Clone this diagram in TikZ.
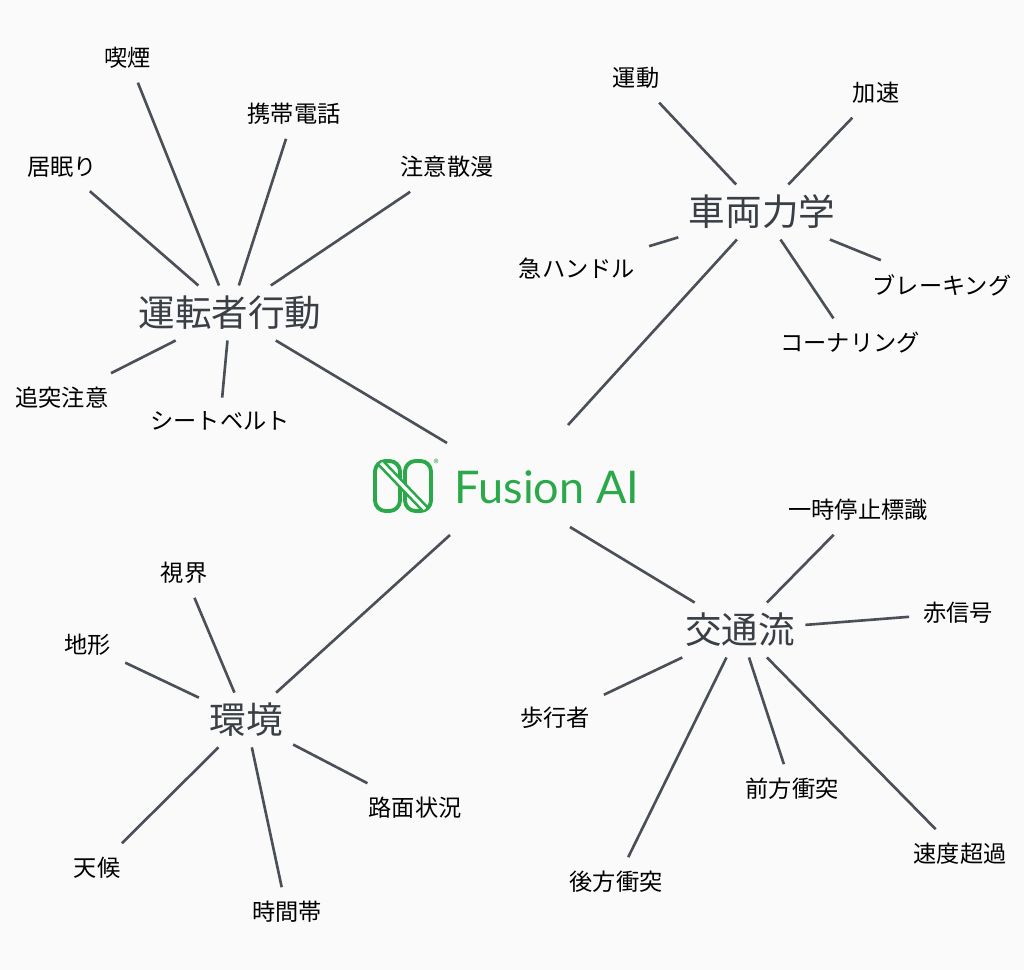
\documentclass[tikz,border=0pt]{standalone}
\usepackage{fontspec}
\setmainfont{Noto Sans CJK JP}
\newfontfamily\latinfont{Lato}
\definecolor{linegray}{HTML}{4B5058}
\definecolor{hubgray}{HTML}{3A3F45}
\definecolor{fusiongreen}{HTML}{2BA84A}
\definecolor{paper}{HTML}{FAFAFA}
\begin{document}
\begin{tikzpicture}[x=0.01cm,y=-0.01cm]
\tikzset{LeafStyle/.style = {font=\fontsize{6.6}{7}\selectfont, text=black, inner sep=1pt, outer sep=3pt},
 HubStyle/.style = {font=\fontsize{10.4}{11}\selectfont, text=hubgray, inner sep=0pt, outer sep=3pt},
 EdgeStyle/.style = {linegray, line width=0.75pt}}

\fill[paper] (0,0) rectangle (1024,970);
\useasboundingbox (0,0) rectangle (1024,970);

% centre
\node[font=\latinfont\fontsize{12.8}{13}\selectfont, text=fusiongreen, anchor=west, inner sep=0pt] (FA) at (454,487) {Fusion AI};
\draw[fusiongreen, line width=1.1pt, rounded corners=3pt] (375,461) rectangle (400,511);
\draw[fusiongreen, line width=1.1pt, rounded corners=3pt] (405,461) rectangle (431,511);
\draw[fusiongreen, line width=2.4pt] (381,463) -- (425,509);
\draw[white, line width=0.9pt] (381,463) -- (425,509);
\node[font=\fontsize{3}{3}\selectfont, text=fusiongreen, inner sep=0pt] (R) at (436,463) {\textregistered};
\coordinate (C1) at (447,443);
\coordinate (C2) at (568,425);
\coordinate (C3) at (450,535);
\coordinate (C4) at (570,527);

% hubs
\node[HubStyle] (H1) at (230,313) {運転者行動};
\node[HubStyle] (H2) at (762,212) {車両力学};
\node[HubStyle] (H3) at (246,720) {環境};
\node[HubStyle] (H4) at (740,630) {交通流};

% leaves
\node[LeafStyle] (A1) at (128,58) {喫煙};
\node[LeafStyle] (A2) at (294,114) {携帯電話};
\node[LeafStyle] (A3) at (62,167) {居眠り};
\node[LeafStyle] (A4) at (447,167) {注意散漫};
\node[LeafStyle] (A5) at (62,398) {追突注意};
\node[LeafStyle] (A6) at (220,421) {シートベルト};
\node[LeafStyle] (B1) at (636,78) {運動};
\node[LeafStyle] (B2) at (876,93) {加速};
\node[LeafStyle] (B3) at (577,268) {急ハンドル};
\node[LeafStyle] (B4) at (942,285) {ブレーキング};
\node[LeafStyle] (B5) at (850,343) {コーナリング};
\node[LeafStyle] (D1) at (858,510) {一時停止標識};
\node[LeafStyle] (D2) at (958,613) {赤信号};
\node[LeafStyle] (D3) at (555,718) {歩行者};
\node[LeafStyle] (D4) at (792,789) {前方衝突};
\node[LeafStyle] (D5) at (960,854) {速度超過};
\node[LeafStyle] (D6) at (616,882) {後方衝突};
\node[LeafStyle] (E1) at (184,573) {視界};
\node[LeafStyle] (E2) at (88,645) {地形};
\node[LeafStyle] (E3) at (415,808) {路面状況};
\node[LeafStyle] (E4) at (97,868) {天候};
\node[LeafStyle] (E5) at (287,912) {時間帯};

% edges
\draw[EdgeStyle] (H1) -- (C1);
\draw[EdgeStyle] (H2) -- (C2);
\draw[EdgeStyle] (H3) -- (C3);
\draw[EdgeStyle] (H4) -- (C4);
\foreach \leaf in {A1,A2,A3,A4,A5,A6} \draw[EdgeStyle] (H1) -- (\leaf);
\foreach \leaf in {B1,B2,B3,B4,B5} \draw[EdgeStyle] (H2) -- (\leaf);
\foreach \leaf in {D1,D2,D3,D4,D5,D6} \draw[EdgeStyle] (H4) -- (\leaf);
\foreach \leaf in {E1,E2,E3,E4,E5} \draw[EdgeStyle] (H3) -- (\leaf);

\end{tikzpicture}
\end{document}
